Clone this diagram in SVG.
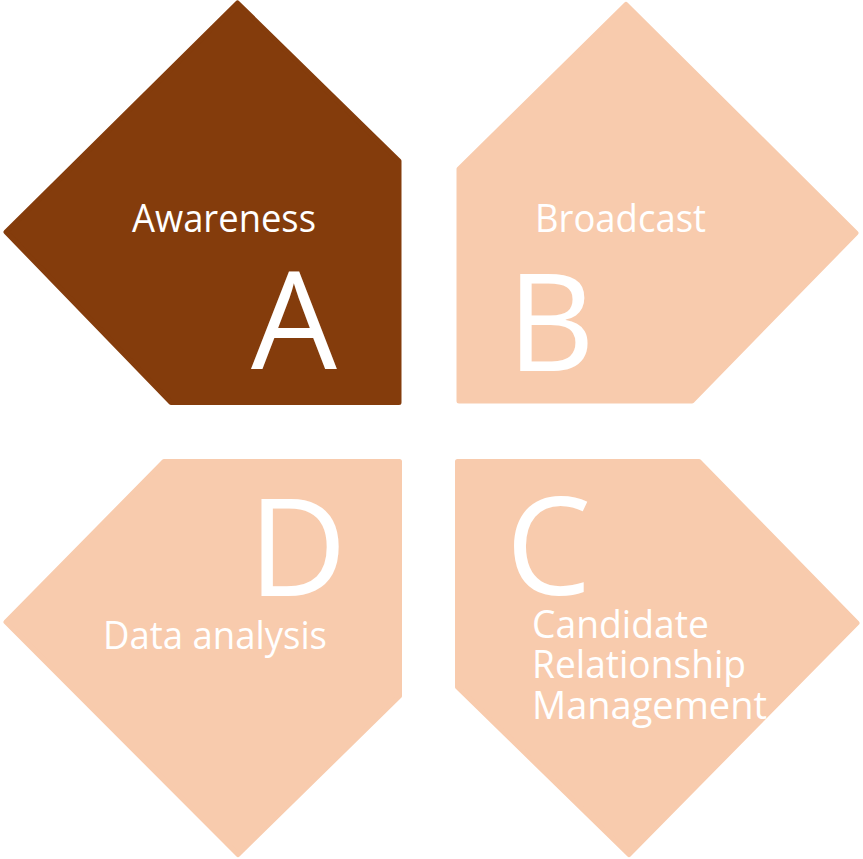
<svg xmlns="http://www.w3.org/2000/svg" width="863" height="859" viewBox="0 0 863 859">
<style>
.shape{stroke-width:5;stroke-linejoin:round}
.dark{fill:#843C0C;stroke:#843C0C}
.light{fill:#F8CBAD;stroke:#F8CBAD}
.big{font-family:"Open Sans","Noto Sans",sans-serif;font-size:136px;fill:#FFFFFF;text-anchor:middle}
.lbl{font-family:"Open Sans","Noto Sans",sans-serif;font-size:38px;fill:#FFFFFF}
</style>
<rect width="863" height="859" fill="#FFFFFF"/>
<g id="connectors"></g>
<g id="node-a">
<polygon class="shape dark" points="237.5,3 399,161 399,402.5 171,402.5 6,232"/>
<text class="lbl" x="132" y="232" textLength="184" lengthAdjust="spacingAndGlyphs">Awareness</text>
<text class="big" x="294" y="369">A</text>
</g>
<g id="node-b">
<polygon class="shape light" points="626,4.5 856,233 692,401 459,401 459,169"/>
<text class="lbl" x="535" y="232" textLength="171" lengthAdjust="spacingAndGlyphs">Broadcast</text>
<text class="big" x="551" y="371">B</text>
</g>
<g id="node-c">
<polygon class="shape light" points="457.5,461.5 699,461.5 857,623 629,854.5 457.5,687"/>
<text class="big" x="548.5" y="595">C</text>
<text class="lbl" x="532" y="638" textLength="177" lengthAdjust="spacingAndGlyphs">Candidate</text>
<text class="lbl" x="532" y="678" textLength="214" lengthAdjust="spacingAndGlyphs">Relationship</text>
<text class="lbl" x="532" y="719" textLength="235" lengthAdjust="spacingAndGlyphs">Management</text>
</g>
<g id="node-d">
<polygon class="shape light" points="164,461.5 399.5,461.5 399.5,696 238,854.5 6,622"/>
<text class="big" x="297.5" y="596">D</text>
<text class="lbl" x="103" y="649" textLength="224" lengthAdjust="spacingAndGlyphs">Data analysis</text>
</g>
</svg>
